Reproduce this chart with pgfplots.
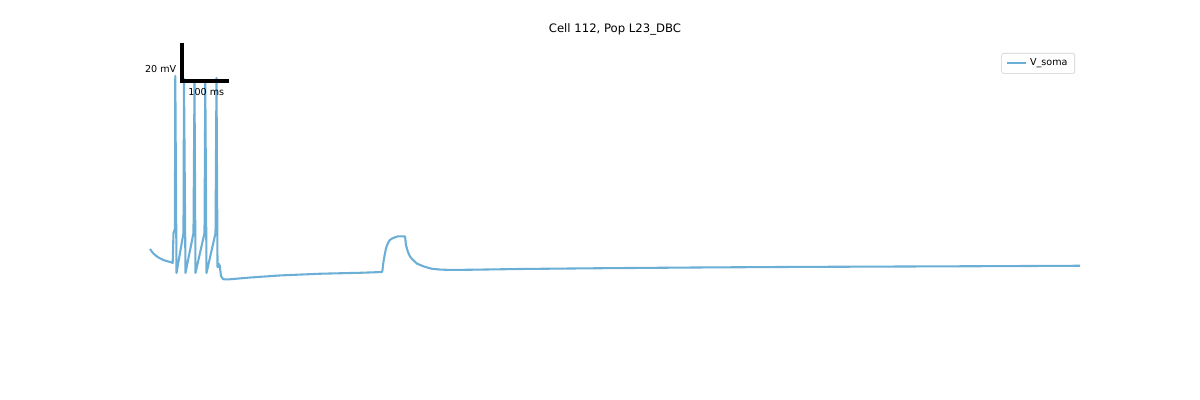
\documentclass[border=0pt]{standalone}
\usepackage{fontspec}
\setmainfont{DejaVu Sans}
\usepackage{pgfplots}
\pgfplotsset{compat=1.18}
\definecolor{vcol}{RGB}{107,174,214}
\begin{document}
\begin{tikzpicture}
\path[use as bounding box] (0,0) rectangle (864pt,288pt);
\begin{axis}[
  at={(108pt,31.68pt)}, anchor=south west,
  scale only axis, width=669.6pt, height=221.76pt,
  axis lines=none, ticks=none,
  xmin=0, xmax=2000, ymin=-117.89, ymax=44.21,
  clip=false,
  title={Cell 112, Pop L23\_DBC},
  title style={font=\fontsize{8.4}{10}\selectfont, at={(0.5,1)}, anchor=base, yshift=5.4pt, inner sep=0pt},
  legend style={at={(1,1)}, anchor=north east, xshift=-3.6pt, yshift=-3.6pt,
    draw=black!20, rounded corners=1.5pt, font=\fontsize{6.9}{8}\selectfont,
    inner xsep=3.2pt, inner ysep=2pt},
  legend image code/.code={\draw[#1, line width=1.5pt] (0pt,0pt) -- (13.8pt,0pt);},
]
\addplot[vcol, line width=1.5pt, line join=round] coordinates {
(0,-61.6) (6,-63.6) (12,-65.0) (20,-66.3) (30,-67.5) (43,-68.4) (48.8,-68.9)
(50.5,-53.2) (53.5,-51) (54.4,29.5) (57.0,-74.2)
(72.0,-53.2) (73.1,27.9) (76.3,-74.2)
(93.5,-53.2) (95.7,25.8) (97.8,-74.2)
(117.2,-53.2) (118.9,25.8) (121.5,-74.2)
(140.9,-53.2) (143.0,28.4)
(145.2,-71.1) (147.1,-71.1) (148.4,-69.5) (150.1,-70.5) (152.7,-75.8) (157,-77.4) (161.3,-77.6) (167.7,-77.6)
(215.1,-76.6) (279.6,-75.5) (365.6,-74.6) (451.6,-74.1) (498.9,-73.7)
(500,-72.6) (502,-68.5) (505.4,-63.7) (508,-60.8) (511.8,-58.4) (516,-56.8) (522.6,-55.8) (533.3,-54.9) (548.4,-54.9)
(550.5,-59.5) (554.8,-63.2) (559.1,-65.5) (563.4,-66.8) (574.2,-69.3) (591.4,-71.0) (606.5,-72.0) (623.7,-72.4)
(645.2,-72.6) (688.2,-72.5) (795.7,-72.1) (967.7,-71.7) (1182.8,-71.3) (1397.8,-71.0) (1612.9,-70.8) (1828,-70.6) (2000,-70.4)
};
\addlegendentry{V\_soma}
\addplot[black, line width=2.9pt, line cap=rect, line join=miter, forget plot] coordinates {(68.8,45.8) (68.8,26.8) (165.6,26.8)};
\node[anchor=east, inner sep=0pt, font=\fontsize{6.9}{8}\selectfont] at (axis cs:57,33.2) {20 mV};
\node[anchor=center, inner sep=0pt, font=\fontsize{6.9}{8}\selectfont] at (axis cs:121.1,21.2) {100 ms};
\end{axis}
\end{tikzpicture}
\end{document}
